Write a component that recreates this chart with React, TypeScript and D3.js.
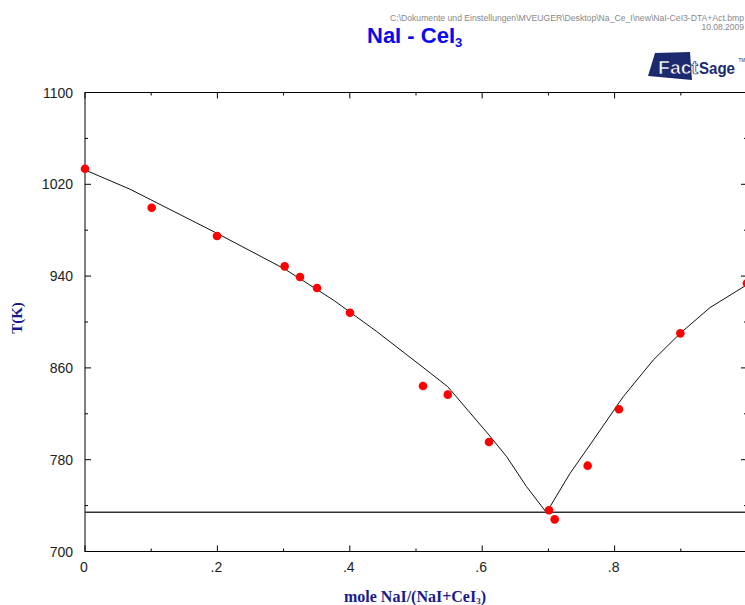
import React from "react";
import * as d3 from "d3";

// Experimental DTA points: mole fraction NaI, temperature (K)
const expX = [0, 0.1007, 0.1994, 0.3016, 0.3248, 0.3505, 0.4003, 0.5106, 0.548, 0.6103, 0.7009, 0.7095, 0.7593, 0.8066, 0.8993, 1.0];
const expT = [1033.6, 999.6, 975, 948.5, 939.2, 929.6, 908.1, 844.2, 836.7, 795.4, 735.9, 728, 774.8, 823.9, 890.1, 933.7];

// Calculated liquidus, CeI3-rich branch
const liqLeftX = [0, 0.068, 0.1994, 0.3016, 0.375, 0.44, 0.5106, 0.548, 0.6103, 0.637, 0.667, 0.697];
const liqLeftT = [1032.5, 1015.7, 977.3, 946.2, 919.2, 892, 860.5, 843.6, 801.5, 782.6, 756.5, 734];
// Calculated liquidus, NaI-rich branch
const liqRightX = [0.697, 0.7024, 0.7326, 0.768, 0.813, 0.8585, 0.899, 0.944, 0.997, 1.0];
const liqRightT = [734, 739, 768, 797.2, 834.9, 866.9, 890.1, 912.5, 931.4, 932.8];

// Eutectic temperature (K)
const eutecticT = 734.2;

const yTicks = [700, 780, 860, 940, 1020, 1100];
const yMinor = [740, 820, 900, 980, 1060];
const xTicks = [0, 0.2, 0.4, 0.6, 0.8];
const xTickLabels = ["0", ".2", ".4", ".6", ".8"];
const xMinor = [0.1, 0.3, 0.5, 0.7, 0.9];

const W = 745;
const H = 605;
const left = 85;
const right = 747;
const top = 92.5;
const bottom = 551.5;

export default function App() {
  const x = d3.scaleLinear().domain([0, 1]).range([left, right]);
  const y = d3.scaleLinear().domain([700, 1100]).range([bottom, top]);
  const line = d3
    .line<[number, number]>()
    .x((d) => x(d[0]))
    .y((d) => y(d[1]));
  const leftPts = liqLeftX.map((v, i) => [v, liqLeftT[i]] as [number, number]);
  const rightPts = liqRightX.map((v, i) => [v, liqRightT[i]] as [number, number]);
  const navy = "#1a1a8c";
  const logoBlue = "#1b2a6e";
  const sans = "Liberation Sans, Arial, sans-serif";

  return (
    <svg
      width={W}
      height={H}
      style={{ position: "absolute", left: 0, top: 0, background: "#fff" }}
    >
      {/* header */}
      <text x={744} y={21} fontSize={8.5} fill="#888" textAnchor="end" fontFamily={sans} textLength={354} lengthAdjust="spacingAndGlyphs">
        C:\Dokumente und Einstellungen\MVEUGER\Desktop\Na_Ce_I\new\NaI-CeI3-DTA+Act.bmp
      </text>
      <text x={744} y={29.5} fontSize={8.5} fill="#888" textAnchor="end" fontFamily={sans}>
        10.08.2009
      </text>
      <text x={367} y={43} fontSize={22} fontWeight="bold" fill="#0a0af0" fontFamily={sans}>
        NaI - CeI
        <tspan fontSize={13} dy={4}>3</tspan>
      </text>

      {/* FactSage logo */}
      <g>
        <polygon points="655,53 690,52 692,80 648,76" fill={logoBlue} />
        <text
          x={658}
          y={74}
          fontSize={18}
          fontWeight="900"
          fill="#fff"
          stroke={logoBlue}
          strokeWidth={0.7}
          fontFamily={sans}
          textLength={40}
          lengthAdjust="spacingAndGlyphs"
        >
          Fact
        </text>
        <text
          x={699}
          y={74}
          fontSize={17}
          fontWeight="bold"
          fill={logoBlue}
          fontFamily={sans}
          textLength={36}
          lengthAdjust="spacingAndGlyphs"
        >
          Sage
        </text>
        <text x={738.5} y={62} fontSize={4.5} fill={logoBlue} fontFamily={sans}>
          TM
        </text>
      </g>

      {/* frame */}
      <rect x={left} y={top} width={right - left} height={bottom - top} fill="none" stroke="#000" strokeWidth={1} />

      {/* y ticks */}
      {yTicks.map((t) => (
        <g key={"y" + t}>
          <line x1={left} x2={left + 6} y1={y(t)} y2={y(t)} stroke="#000" />
          <line x1={right} x2={right - 6} y1={y(t)} y2={y(t)} stroke="#000" />
          <text x={73} y={y(t)} dy="0.36em" fontSize={14} fill="#222" textAnchor="end" fontFamily={sans}>
            {t}
          </text>
        </g>
      ))}
      {yMinor.map((t) => (
        <g key={"ym" + t}>
          <line x1={left} x2={left + 3} y1={y(t)} y2={y(t)} stroke="#000" />
          <line x1={right} x2={right - 3} y1={y(t)} y2={y(t)} stroke="#000" />
        </g>
      ))}

      {/* x ticks */}
      {xTicks.map((t, i) => (
        <g key={"x" + t}>
          <line x1={x(t)} x2={x(t)} y1={bottom} y2={bottom - 6} stroke="#000" />
          <line x1={x(t)} x2={x(t)} y1={top} y2={top + 6} stroke="#000" />
          <text x={x(t) - 1} y={572} fontSize={14} fill="#222" textAnchor="middle" fontFamily={sans}>
            {xTickLabels[i]}
          </text>
        </g>
      ))}
      {xMinor.map((t) => (
        <g key={"xm" + t}>
          <line x1={x(t)} x2={x(t)} y1={bottom} y2={bottom - 3} stroke="#000" />
          <line x1={x(t)} x2={x(t)} y1={top} y2={top + 3} stroke="#000" />
        </g>
      ))}

      {/* eutectic */}
      <line x1={left} x2={right} y1={y(eutecticT)} y2={y(eutecticT)} stroke="#333" strokeWidth={1.3} />

      {/* liquidus */}
      <path d={line(leftPts) ?? ""} fill="none" stroke="#111" strokeWidth={1} />
      <path d={line(rightPts) ?? ""} fill="none" stroke="#111" strokeWidth={1} />

      {/* experimental points */}
      {expX.map((v, i) => (
        <circle key={"p" + i} cx={x(v)} cy={y(expT[i])} r={4.3} fill="#ff0000" />
      ))}

      {/* axis titles */}
      <text
        transform="translate(22,318) rotate(-90)"
        fontSize={15}
        fontWeight="bold"
        fill={navy}
        textAnchor="middle"
        fontFamily="Liberation Serif, Times New Roman, serif"
      >
        T(K)
      </text>
      <text
        x={415}
        y={602}
        fontSize={16}
        fontWeight="bold"
        fill={navy}
        textAnchor="middle"
        fontFamily="Liberation Serif, Times New Roman, serif"
      >
        mole NaI/(NaI+CeI
        <tspan fontSize={9} dy={2}>3</tspan>
        <tspan dy={-2}>)</tspan>
      </text>
    </svg>
  );
}
